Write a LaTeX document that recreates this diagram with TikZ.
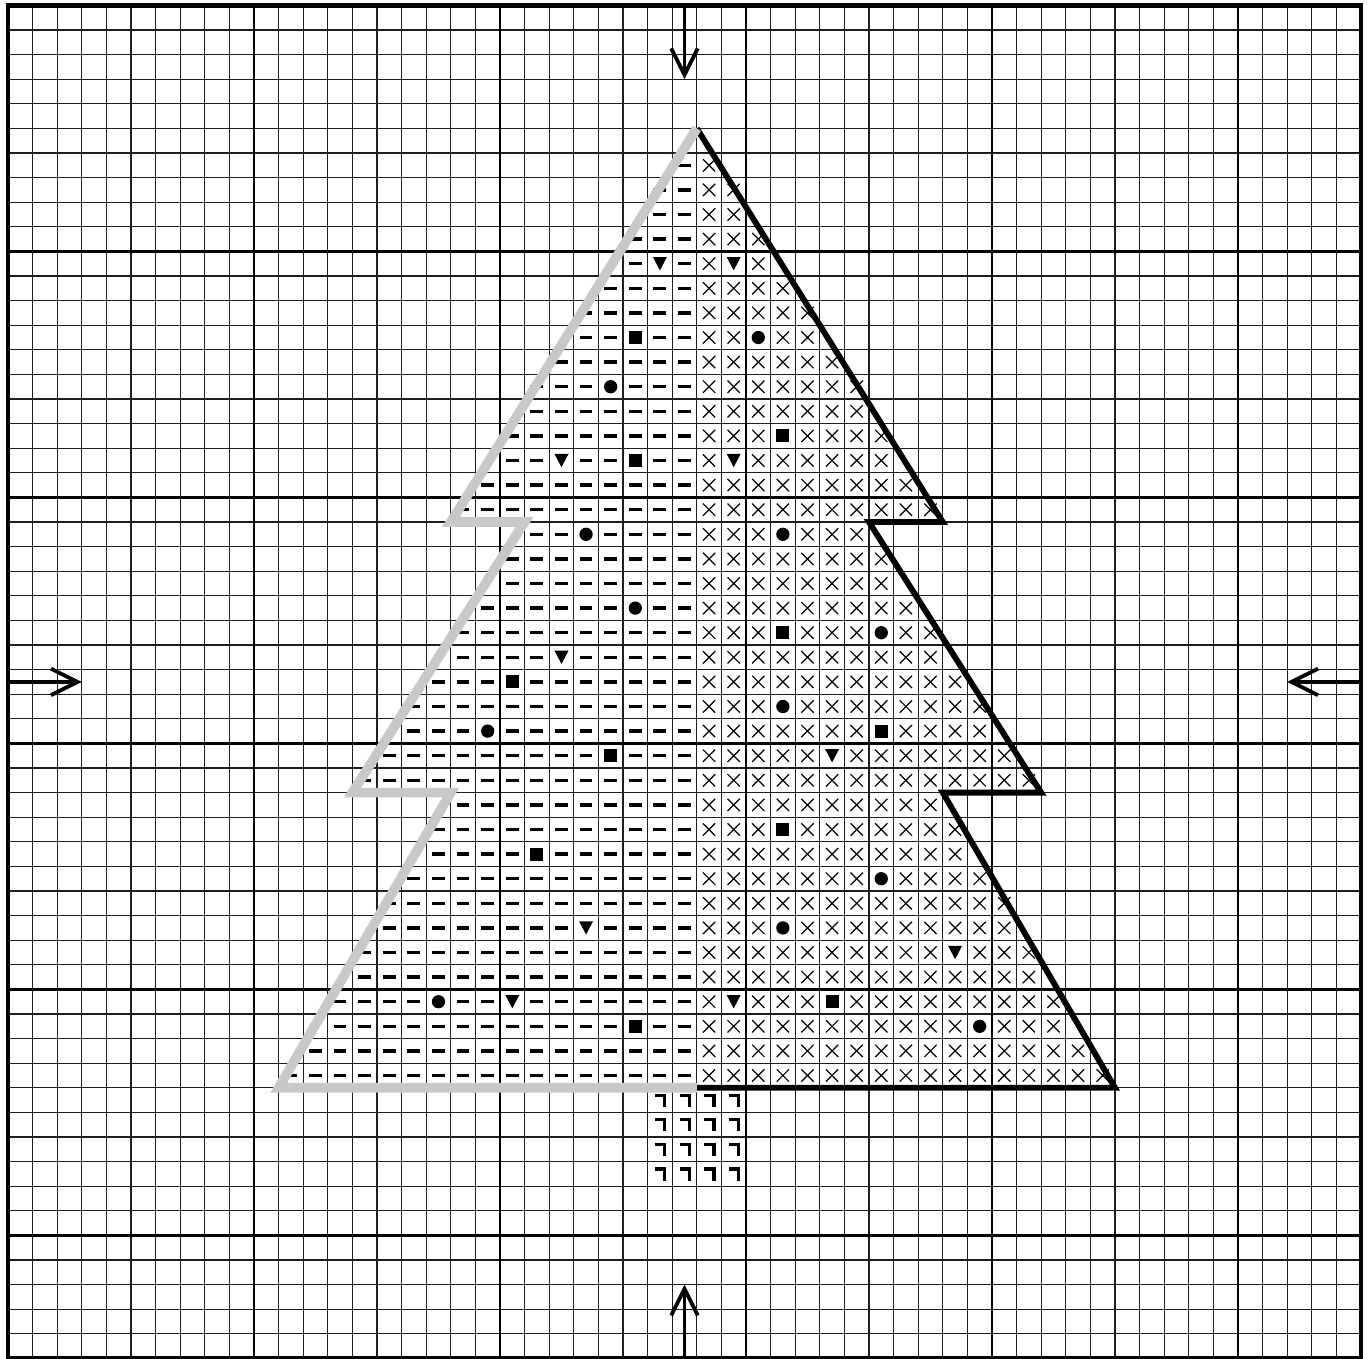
\documentclass[tikz,border=0pt]{standalone}
\usepackage{tikz}
\usetikzlibrary{arrows.meta}
\definecolor{gridink}{RGB}{30,30,30}
\definecolor{halfgrey}{RGB}{200,200,200}
\tikzset{
  fine/.style={draw=gridink,line width=0.7pt},
  major/.style={draw=black,line width=1.7pt},
  frame/.style={draw=black,line width=2.6pt},
  centre/.style={draw=black,line width=2.2pt,
                 -{Straight Barb[length=5.4mm,width=5.4mm]}},
  outk/.style={draw=black,line width=3.4pt},
  outg/.style={draw=halfgrey,line width=5.6pt},
  dsh/.style={line width=1.9pt},
  crs/.style={line width=0.7pt},
  trk/.style={line width=1.9pt,line join=miter},
}
% simbolurile; (#1,#2) e coltul stanga-sus al celulei
\newcommand{\symd}[2]{\draw[dsh] (#1+0.24,#2+0.5) -- (#1+0.76,#2+0.5);}
\newcommand{\symx}[2]{\draw[crs] (#1+0.25,#2+0.25) -- (#1+0.75,#2+0.75)
                                 (#1+0.75,#2+0.25) -- (#1+0.25,#2+0.75);}
\newcommand{\symt}[2]{\fill (#1+0.215,#2+0.23) -- (#1+0.785,#2+0.23)
                            -- (#1+0.5,#2+0.77) -- cycle;}
\newcommand{\syms}[2]{\fill (#1+0.235,#2+0.235) rectangle (#1+0.765,#2+0.765);}
\newcommand{\symc}[2]{\fill (#1+0.5,#2+0.5) circle (0.27);}
\newcommand{\symn}[2]{\draw[trk] (#1+0.3,#2+0.3) -- (#1+0.7,#2+0.3)
                                 -- (#1+0.7,#2+0.77);}

\begin{document}
\begin{tikzpicture}[x=5mm,y=-5mm]
  \useasboundingbox (-0.325,-0.22) rectangle (55.245,55.02);

  % caroiajul 55x55, linie groasa la fiecare 10 celule
  \foreach \i in {1,...,54} {
    \draw[fine] (\i,0) -- (\i,55);
    \draw[fine] (0,\i) -- (55,\i);
  }
  \foreach \i in {10,20,...,50} {
    \draw[major] (\i,0) -- (\i,55);
    \draw[major] (0,\i) -- (55,\i);
  }

  % ornamente: coloana/rand/tip (t triunghi, s patrat, c cerc)
  \foreach \cl/\rw/\kind in {26/10/t,29/10/t,25/13/s,30/13/c,24/15/c,31/17/s,
      22/18/t,25/18/s,29/18/t,23/21/c,31/21/c,25/24/c,31/25/s,35/25/c,22/26/t,
      20/27/s,31/28/c,19/29/c,35/29/s,24/30/s,33/30/t,31/33/s,21/34/s,35/35/c,
      23/37/t,31/37/c,38/38/t,17/40/c,20/40/t,29/40/t,33/40/s,25/41/s,39/41/c} {
    \expandafter\gdef\csname sp\cl-\rw\endcsname{}
    \csname sym\kind\endcsname{\cl}{\rw}
  }

  % bradul: rand/prima coloana din stanga, dreapta e simetrica fata de 28
  \foreach \rw/\lft in {6/27,7/26,8/26,9/25,10/25,11/24,12/23,13/23,14/22,
      15/21,16/21,17/20,18/20,19/19,20/18,21/21,22/20,23/20,24/19,25/18,26/18,
      27/17,28/16,29/16,30/15,31/14,32/18,33/17,34/17,35/16,36/15,37/15,38/14,
      39/14,40/13,41/13,42/12,43/11} {
    \pgfmathtruncatemacro\rgt{55-\lft}
    \foreach \cl in {\lft,...,27} {
      \ifcsname sp\cl-\rw\endcsname\else\symd{\cl}{\rw}\fi
    }
    \foreach \cl in {28,...,\rgt} {
      \ifcsname sp\cl-\rw\endcsname\else\symx{\cl}{\rw}\fi
    }
  }

  % trunchiul
  \foreach \rw in {44,...,47}
    \foreach \cl in {26,...,29} {\symn{\cl}{\rw}}

  % conturul: jumatatea dreapta neagra, stanga gri
  \draw[outk] (28,5) -- (38,21) -- (35,21) -- (42,32) -- (38,32) -- (45,44)
    -- (28,44);
  \draw[outg] (28,5) -- (18,21) -- (21,21) -- (14,32) -- (18,32) -- (11,44)
    -- (28,44);

  % sagetile de centru
  \draw[centre] (27.5,0) -- (27.5,3);
  \draw[centre] (27.5,55) -- (27.5,52);
  \draw[centre] (0,27.5) -- (3,27.5);
  \draw[centre] (55,27.5) -- (52,27.5);

  \draw[frame] (0,0) rectangle (55,55);
\end{tikzpicture}
\end{document}
